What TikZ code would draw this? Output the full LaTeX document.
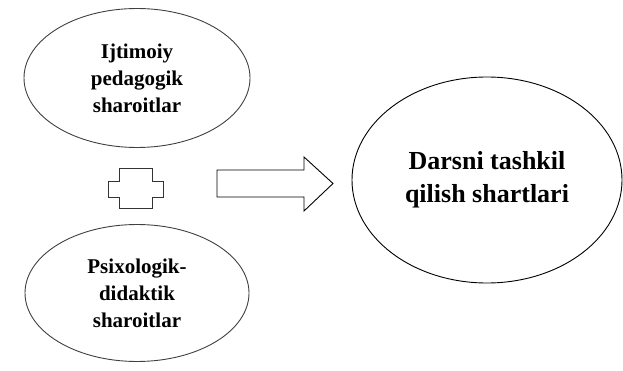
\documentclass[tikz,border=0pt]{standalone}
\usepackage{fontspec}
\setmainfont{Liberation Serif}
\usetikzlibrary{shapes.geometric}
\tikzset{
  cond/.style={ellipse,draw=black!75,line width=0.9pt,align=center,inner sep=0pt,
    font=\bfseries\fontsize{21}{27}\selectfont},
  goal/.style={ellipse,draw=black,line width=0.9pt,align=center,inner sep=0pt,
    font=\bfseries\fontsize{26}{33}\selectfont}
}
\begin{document}
\begin{tikzpicture}[x=1pt,y=-1pt]
\useasboundingbox (0,0) rectangle (623,371);
\def\ox{108};
\def\ix{119};
\def\oy{168};
\def\da{11};
\def\dw{33};
\def\db{16};
\node[cond,minimum width=226pt,minimum height=139pt] (ijt) at (137,78) {Ijtimoiy\\pedagogik\\sharoitlar};
\node[cond,minimum width=224pt,minimum height=137pt] (psi) at (137,293) {Psixologik-\\didaktik\\sharoitlar};
\node[goal,minimum width=270pt,minimum height=206pt] (dar) at (487,180) {Darsni tashkil\\qilish shartlari};
%plus
\draw[black!80,line width=0.9pt] (\ix,\oy) -- ++(\dw,0) -- ++(0,\da+2) -- ++(\da,0) -- ++(0,\db) -- ++(-\da,0)
  -- ++(0,\da) -- ++(-\dw,0) -- ++(0,-\da) -- ++(-\da,0) -- ++(0,-\db) -- ++(\da,0) -- cycle;
%arrow
\draw[black,line width=0.9pt] (217,170) -- (304,170) -- (304,157) -- (333,183.5) -- (304,211)
  -- (304,197) -- (217,197) -- cycle;
\end{tikzpicture}
\end{document}
